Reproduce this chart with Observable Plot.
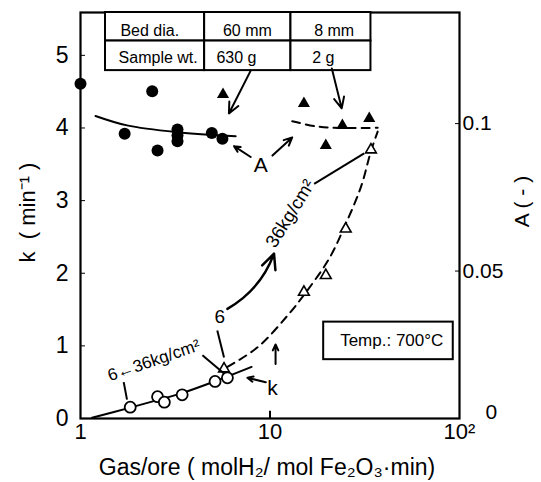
<!DOCTYPE html>
<html><head><meta charset="utf-8">
<script src="https://cdn.jsdelivr.net/npm/d3@7"></script>
<script src="https://cdn.jsdelivr.net/npm/@observablehq/plot@0.6"></script>
<style>
html,body{margin:0;padding:0;background:#fff;}
#chart svg{display:block;}
</style></head><body><div id="chart"></div>
<script>
// ---- scale relation: right axis A(-) vs left axis k(min^-1)
const A_TO_K = 40.6;   // A = 0.1 sits level with k = 4.06

// ---- k, 60 mm bed (open circles) and its solid fit
const k60Ratio = [1.83, 2.55, 2.77, 3.44, 5.13, 5.96];
const k60Value = [0.156, 0.30, 0.225, 0.326, 0.51, 0.56];
const k60FitRatio = [1.15, 1.83, 2.6, 3.44, 5.1, 8.0];
const k60FitValue = [0.01, 0.15, 0.26, 0.35, 0.51, 0.71];

// ---- k, 8 mm bed (open triangles) and its dashed fit
const k8Ratio = [5.72, 15.1, 19.7, 25.1, 34.1];
const k8Value = [0.685, 1.74, 1.97, 2.61, 3.70];
const k8FitRatio = [5.96, 8.6, 12.4, 15.5, 20.5, 25.1, 30.2, 34.1, 37.0];
const k8FitValue = [0.71, 0.98, 1.42, 1.74, 2.2, 2.68, 3.19, 3.68, 3.95];

// ---- A, 60 mm bed (filled circles) and its solid fit
const a60Ratio = [1.0, 1.71, 2.39, 2.55, 3.25, 3.25, 3.25, 4.93, 5.61];
const a60Value = [0.1135, 0.0966, 0.111, 0.0909, 0.098, 0.096, 0.094, 0.0968, 0.0949];
const a60FitRatio = [1.20, 1.76, 3.24, 6.59];
const a60FitValue = [0.1026, 0.0994, 0.0971, 0.0957];

// ---- A, 8 mm bed (filled triangles) and its dashed fit
const a8Ratio = [5.65, 15.1, 19.7, 24.1, 33.4];
const a8Value = [0.1099, 0.1068, 0.0926, 0.0994, 0.1017];
const a8FitRatio = [13.1, 17.8, 24.1, 37.0];
const a8FitValue = [0.1008, 0.0990, 0.0985, 0.0986];

// ---- axes
const xTicks = [1, 10, 100];
const xTickLabels = ["1", "10", "10²"];
const xInnerTicks = [10];
const kTicks = [0, 1, 2, 3, 4, 5];
const aTicks = [0.05, 0.1];
const aTickLabels = ["0.05", "0.1"];
const aZeroLabel = ["0"];
const xTitle = "Gas/ore ( molH\u2082/ mol Fe\u2082O\u2083·min)";
const kTitle = "k  ( min\u207B\u00B9 )";
const aTitle = "A ( - )";

// ---- legend table (bed conditions)
const tableColX = [1.355, 4.52, 12.9, 34.1];
const tableRowK = [5.59, 5.197, 4.79];
const tableText = ["Bed dia.", "60 mm", "8 mm", "Sample wt.", "630 g", "2 g"];
const tableTextX = [2.32, 7.6, 21.8, 2.57, 6.65, 19.1];
const tableTextK = [5.34, 5.34, 5.34, 4.96, 4.96, 4.96];

// ---- temperature box
const tempBoxX = [19.2, 92.7];
const tempBoxK = [0.81, 1.327];
const tempText = ["Temp.: 700°C"];
const tempTextX = [43.9];
const tempTextK = [1.07];

// ---- annotation labels
const noteText = ["A", "k", "6", "36kg/cm²", "6\u219036kg/cm²"];
const noteX = [8.94, 10.3, 5.44, 12.8, 2.44];
const noteK = [3.48, 0.41, 1.40, 2.82, 0.80];
const noteRotate = [0, 0, 0, -58, -19];
const noteSize = [21, 21, 19, 18.5, 17];

// ---- arrows (with head) and plain pointer lines
const arrowX1 = [7.91, 21.2, 7.91, 10.3, 9.5, 10.7];
const arrowK1 = [4.79, 4.82, 3.60, 3.62, 0.50, 0.75];
const arrowX2 = [6.07, 23.9, 6.46, 13.1, 7.6, 10.7];
const arrowK2 = [4.20, 4.27, 3.75, 3.87, 0.56, 1.02];
const curveArrowX = [5.96, 10.5];
const curveArrowK = [1.51, 2.27];
const lineX1 = [17.1, 5.27, 1.69, 4.40];
const lineK1 = [3.23, 1.21, 0.50, 0.87];
const lineX2 = [31.4, 5.72, 1.76, 5.72];
const lineK2 = [3.65, 0.84, 0.26, 0.62];

const font = "Liberation Sans, Arial, sans-serif";
const zip = (xs, ys) => xs.map((x, i) => ({x, y: ys[i]}));
const zipA = (xs, as) => xs.map((x, i) => ({x, y: as[i] * A_TO_K}));

const tableCells = [];
for (let r = 0; r < 2; r++) for (let c = 0; c < 3; c++)
  tableCells.push({x1: tableColX[c], x2: tableColX[c + 1], y1: tableRowK[r + 1], y2: tableRowK[r]});
const tableLabels = tableText.map((t, i) => ({t, x: tableTextX[i], y: tableTextK[i]}));
const notes = noteText.map((t, i) => ({t, x: noteX[i], y: noteK[i], r: noteRotate[i], s: noteSize[i]}));
const arrows = arrowX1.map((x, i) => ({x1: x, y1: arrowK1[i], x2: arrowX2[i], y2: arrowK2[i]}));
const lines = lineX1.map((x, i) => ({x1: x, y1: lineK1[i], x2: lineX2[i], y2: lineK2[i]}));
const xLabelData = xTicks.map((x, i) => ({x, t: xTickLabels[i]}));

const chart = Plot.plot({
  width: 541,
  height: 482,
  marginLeft: 80,
  marginRight: 82,
  marginTop: 12,
  marginBottom: 64,
  style: {fontFamily: font, background: "#fff", color: "#000"},
  x: {type: "log", domain: [1, 100], axis: null},
  y: {domain: [0, 5.59]},
  marks: [
    // left axis: labels and inward ticks
    Plot.axisY({anchor: "left", ticks: kTicks, tickSize: 0, tickPadding: 12, fontSize: 23, label: null, tickFormat: d => String(d)}),
    Plot.axisY({anchor: "left", ticks: kTicks.slice(1), tickSize: 5, dx: 5, tickFormat: () => "", label: null}),
    // right axis: A values
    Plot.axisY({anchor: "right", ticks: aTicks.map(a => a * A_TO_K), tickSize: 0, tickPadding: 3, fontSize: 21,
                tickFormat: (d, i) => aTickLabels[i], label: null}),
    Plot.axisY({anchor: "right", ticks: aTicks.map(a => a * A_TO_K), tickSize: 5, dx: -5, tickFormat: () => "", label: null}),
    Plot.axisY({anchor: "right", ticks: [0], tickSize: 0, tickPadding: 26, dy: -6, fontSize: 21,
                tickFormat: () => aZeroLabel[0], label: null}),
    // x axis: labels below the frame, inward tick at 10
    Plot.text(xLabelData, {x: "x", frameAnchor: "bottom", lineAnchor: "top", dy: 5, text: "t", fontSize: 22}),
    Plot.ruleX(xInnerTicks, {y1: 0, y2: 0.1, strokeWidth: 2}),
    Plot.frame({strokeWidth: 2.2}),
    // titles
    Plot.text([xTitle], {frameAnchor: "bottom", textAnchor: "middle", dy: 56, dx: -3, fontSize: 23, text: d => d}),
    Plot.text([kTitle], {frameAnchor: "left", textAnchor: "middle", dx: -53, dy: -3, rotate: -90, fontSize: 22, text: d => d}),
    Plot.text([aTitle], {frameAnchor: "right", textAnchor: "middle", dx: 63, dy: -14, rotate: -90, fontSize: 21, text: d => d}),
    // table
    Plot.rect(tableCells, {x1: "x1", x2: "x2", y1: "y1", y2: "y2", fill: "#fff", stroke: "#000", strokeWidth: 2}),
    Plot.text(tableLabels, {x: "x", y: "y", text: "t", fontSize: 16}),
    // temperature box
    Plot.rect([0], {x1: tempBoxX[0], x2: tempBoxX[1], y1: tempBoxK[0], y2: tempBoxK[1], stroke: "#000", strokeWidth: 2, fill: "none"}),
    Plot.text(tempText, {x: tempTextX, y: tempTextK, text: d => d, fontSize: 17}),
    // fits
    Plot.line(zip(k60FitRatio, k60FitValue), {x: "x", y: "y", curve: "catmull-rom", strokeWidth: 2}),
    Plot.line(zip(k8FitRatio, k8FitValue), {x: "x", y: "y", curve: "catmull-rom", strokeWidth: 2, strokeDasharray: "8,6"}),
    Plot.line(zipA(a60FitRatio, a60FitValue), {x: "x", y: "y", curve: "catmull-rom", strokeWidth: 2}),
    Plot.line(zipA(a8FitRatio, a8FitValue), {x: "x", y: "y", curve: "catmull-rom", strokeWidth: 2, strokeDasharray: "8,6"}),
    // points
    Plot.dot(zip(k60Ratio, k60Value), {x: "x", y: "y", r: 5.5, fill: "#fff", stroke: "#000", strokeWidth: 1.8}),
    Plot.dot(zip(k8Ratio, k8Value), {x: "x", y: "y", r: 4, symbol: "triangle", fill: "#fff", stroke: "#000", strokeWidth: 1.6}),
    Plot.dot(zipA(a60Ratio, a60Value), {x: "x", y: "y", r: 6, fill: "#000", stroke: "none"}),
    Plot.dot(zipA(a8Ratio, a8Value), {x: "x", y: "y", r: 4.5, symbol: "triangle", fill: "#000", stroke: "none"}),
    // annotations
    Plot.link(lines, {x1: "x1", y1: "y1", x2: "x2", y2: "y2", strokeWidth: 2}),
    Plot.arrow(arrows, {x1: "x1", y1: "y1", x2: "x2", y2: "y2", strokeWidth: 2, headLength: 9, headAngle: 50}),
    Plot.arrow([0], {x1: curveArrowX[0], y1: curveArrowK[0], x2: curveArrowX[1], y2: curveArrowK[1], bend: -20,
                     strokeWidth: 2.5, headLength: 10, headAngle: 50}),
    Plot.text(notes, {x: "x", y: "y", text: "t", rotate: "r", fontSize: "s"})
  ]
});
document.getElementById("chart").append(chart);
</script></body></html>
